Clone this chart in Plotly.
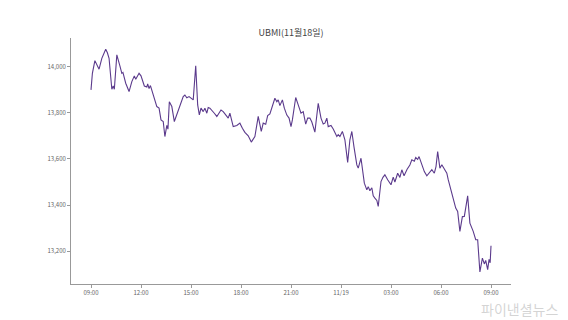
import plotly.graph_objects as go
import pandas as pd

title = "UBMI(11월18일)"

times = [
    "2021-11-18 09:00", "2021-11-18 09:05", "2021-11-18 09:14", "2021-11-18 09:22", "2021-11-18 09:29",
    "2021-11-18 09:39", "2021-11-18 09:53", "2021-11-18 09:59", "2021-11-18 10:05", "2021-11-18 10:15",
    "2021-11-18 10:20", "2021-11-18 10:24", "2021-11-18 10:33", "2021-11-18 10:44", "2021-11-18 10:51",
    "2021-11-18 10:55", "2021-11-18 11:05", "2021-11-18 11:17", "2021-11-18 11:27", "2021-11-18 11:36",
    "2021-11-18 11:41", "2021-11-18 11:53", "2021-11-18 12:00", "2021-11-18 12:12", "2021-11-18 12:21",
    "2021-11-18 12:24", "2021-11-18 12:29", "2021-11-18 12:34", "2021-11-18 12:39", "2021-11-18 12:50",
    "2021-11-18 12:57", "2021-11-18 13:05", "2021-11-18 13:12", "2021-11-18 13:20", "2021-11-18 13:26",
    "2021-11-18 13:33", "2021-11-18 13:37", "2021-11-18 13:42", "2021-11-18 13:51", "2021-11-18 14:00",
    "2021-11-18 14:09", "2021-11-18 14:20", "2021-11-18 14:32", "2021-11-18 14:38", "2021-11-18 14:45",
    "2021-11-18 14:53", "2021-11-18 15:03", "2021-11-18 15:08", "2021-11-18 15:17", "2021-11-18 15:24",
    "2021-11-18 15:30", "2021-11-18 15:36", "2021-11-18 15:44", "2021-11-18 15:50", "2021-11-18 15:57",
    "2021-11-18 16:02", "2021-11-18 16:08", "2021-11-18 16:15", "2021-11-18 16:24", "2021-11-18 16:33",
    "2021-11-18 16:41", "2021-11-18 16:48", "2021-11-18 16:56", "2021-11-18 17:05", "2021-11-18 17:14",
    "2021-11-18 17:20", "2021-11-18 17:32", "2021-11-18 17:45", "2021-11-18 17:50", "2021-11-18 17:56",
    "2021-11-18 18:05", "2021-11-18 18:14", "2021-11-18 18:26", "2021-11-18 18:37", "2021-11-18 18:50",
    "2021-11-18 19:02", "2021-11-18 19:13", "2021-11-18 19:20", "2021-11-18 19:29", "2021-11-18 19:36",
    "2021-11-18 19:44", "2021-11-18 19:51", "2021-11-18 20:02", "2021-11-18 20:09", "2021-11-18 20:14",
    "2021-11-18 20:20", "2021-11-18 20:29", "2021-11-18 20:36", "2021-11-18 20:45", "2021-11-18 20:53",
    "2021-11-18 21:00", "2021-11-18 21:05", "2021-11-18 21:17", "2021-11-18 21:26", "2021-11-18 21:36",
    "2021-11-18 21:44", "2021-11-18 21:53", "2021-11-18 22:00", "2021-11-18 22:08", "2021-11-18 22:15",
    "2021-11-18 22:26", "2021-11-18 22:38", "2021-11-18 22:48", "2021-11-18 22:56", "2021-11-18 23:02",
    "2021-11-18 23:09", "2021-11-18 23:14", "2021-11-18 23:24", "2021-11-18 23:32", "2021-11-18 23:45",
    "2021-11-18 23:50", "2021-11-18 23:56", "2021-11-19 00:05", "2021-11-19 00:14", "2021-11-19 00:24",
    "2021-11-19 00:32", "2021-11-19 00:39", "2021-11-19 00:47", "2021-11-19 00:57", "2021-11-19 01:02",
    "2021-11-19 01:12", "2021-11-19 01:24", "2021-11-19 01:33", "2021-11-19 01:38", "2021-11-19 01:44",
    "2021-11-19 01:51", "2021-11-19 01:56", "2021-11-19 02:02", "2021-11-19 02:09", "2021-11-19 02:14",
    "2021-11-19 02:24", "2021-11-19 02:31", "2021-11-19 02:38", "2021-11-19 02:48", "2021-11-19 03:00",
    "2021-11-19 03:08", "2021-11-19 03:14", "2021-11-19 03:24", "2021-11-19 03:32", "2021-11-19 03:39",
    "2021-11-19 03:47", "2021-11-19 03:58", "2021-11-19 04:08", "2021-11-19 04:15", "2021-11-19 04:24",
    "2021-11-19 04:29", "2021-11-19 04:36", "2021-11-19 04:41", "2021-11-19 04:51", "2021-11-19 05:00",
    "2021-11-19 05:09", "2021-11-19 05:17", "2021-11-19 05:27", "2021-11-19 05:36", "2021-11-19 05:42",
    "2021-11-19 05:48", "2021-11-19 05:56", "2021-11-19 06:03", "2021-11-19 06:12", "2021-11-19 06:21",
    "2021-11-19 06:26", "2021-11-19 06:36", "2021-11-19 06:44", "2021-11-19 06:53", "2021-11-19 07:00",
    "2021-11-19 07:08", "2021-11-19 07:17", "2021-11-19 07:24", "2021-11-19 07:36", "2021-11-19 07:44",
    "2021-11-19 07:56", "2021-11-19 08:05", "2021-11-19 08:12", "2021-11-19 08:20", "2021-11-19 08:29",
    "2021-11-19 08:36", "2021-11-19 08:41", "2021-11-19 08:48", "2021-11-19 08:53", "2021-11-19 08:57",
    "2021-11-19 09:00",
]

values = [
    13899, 13971, 14026, 14005, 13989,
    14036, 14075, 14060, 14036, 13902,
    13916, 13902, 14051, 14003, 13971,
    13975, 13928, 13892, 13935, 13960,
    13945, 13971, 13960, 13916, 13912,
    13925, 13905, 13918, 13899, 13848,
    13827, 13820, 13769, 13762, 13697,
    13745, 13729, 13848, 13827, 13762,
    13791, 13834, 13870, 13877, 13865,
    13870, 13863, 13856, 14004, 13834,
    13791, 13820, 13805, 13820, 13798,
    13823, 13820, 13812, 13798, 13784,
    13800, 13812, 13805, 13791, 13777,
    13798, 13740, 13745, 13748, 13755,
    13733, 13715, 13700, 13673, 13697,
    13784, 13719, 13755, 13750, 13788,
    13795, 13823, 13863, 13848, 13856,
    13831, 13856, 13820, 13790, 13777,
    13740, 13769, 13866, 13834, 13798,
    13805, 13751, 13777, 13777, 13760,
    13716, 13841, 13777, 13751, 13755,
    13777, 13740, 13745, 13730, 13697,
    13705, 13697, 13719, 13683, 13585,
    13683, 13719, 13650, 13574, 13560,
    13603, 13495, 13466, 13480, 13462,
    13475, 13440, 13430, 13420, 13394,
    13502, 13520, 13531, 13510, 13488,
    13521, 13500, 13538, 13520, 13553,
    13527, 13555, 13574, 13596, 13590,
    13606, 13598, 13610, 13570, 13545,
    13527, 13538, 13553, 13538, 13567,
    13632, 13560, 13575, 13553, 13538,
    13510, 13466, 13430, 13387, 13372,
    13286, 13350, 13351, 13440, 13322,
    13286, 13250, 13250, 13110, 13170,
    13145, 13160, 13120, 13165, 13150,
    13224,
]

tick_times = [
    "2021-11-18 09:00", "2021-11-18 12:00", "2021-11-18 15:00", "2021-11-18 18:00",
    "2021-11-18 21:00", "2021-11-19 00:00", "2021-11-19 03:00", "2021-11-19 06:00",
    "2021-11-19 09:00",
]
tick_labels = ["09:00", "12:00", "15:00", "18:00", "21:00", "11/19", "03:00", "06:00", "09:00"]

y_ticks = [13200, 13400, 13600, 13800, 14000]
y_labels = ["13,200", "13,400", "13,600", "13,800", "14,000"]

x = pd.to_datetime(times)

fig = go.Figure()
fig.add_trace(go.Scatter(
    x=x, y=values, mode="lines",
    line=dict(color="#5b3a8c", width=1.1),
    hoverinfo="skip", showlegend=False,
))

font_family = "Noto Sans CJK KR, Noto Sans, sans-serif"

fig.update_layout(
    width=568, height=320,
    margin=dict(l=71, r=57, t=38, b=36),
    paper_bgcolor="white", plot_bgcolor="white",
    title=dict(text=title, x=0.5125, xanchor="center", y=0.897, yanchor="middle",
               font=dict(size=9, color="#444444", family=font_family)),
    font=dict(family=font_family),
)

fig.update_xaxes(
    range=[pd.Timestamp("2021-11-18 07:48"), pd.Timestamp("2021-11-19 10:12")],
    tickvals=pd.to_datetime(tick_times), ticktext=tick_labels,
    showgrid=False, zeroline=False,
    showline=True, linecolor="#999999", linewidth=1,
    ticks="outside", ticklen=3, tickcolor="#999999", tickwidth=1,
    tickfont=dict(size=6, color="#666666", family=font_family),
)
fig.update_yaxes(
    range=[13058, 14124],
    tickvals=y_ticks, ticktext=y_labels,
    showgrid=False, zeroline=False,
    showline=True, linecolor="#999999", linewidth=1,
    ticks="outside", ticklen=3, tickcolor="#999999", tickwidth=1,
    tickfont=dict(size=6, color="#666666", family=font_family),
)

fig.add_annotation(
    text="파이낸셜뉴스", xref="paper", yref="paper",
    x=1.11, y=-0.1, xanchor="right", yanchor="middle", showarrow=False,
    borderpad=0,
    font=dict(size=14, color="rgba(170,170,170,0.5)", family=font_family),
)

fig.write_html("out.html")
